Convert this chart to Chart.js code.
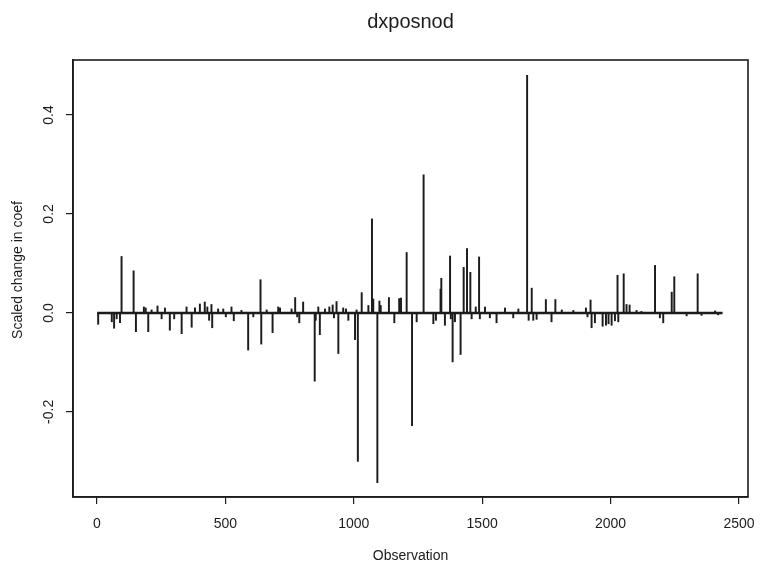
<!DOCTYPE html>
<html>
<head>
<meta charset="utf-8">
<script src="https://cdn.jsdelivr.net/npm/chart.js@4"></script>
<style>
  html, body { margin: 0; padding: 0; background: #fff; }
  canvas { display: block; }
</style>
</head>
<body>
<canvas id="c" width="761" height="573"></canvas>
<script>
// values (observation number, scaled change)
const obsIndex = [
  5, 58, 67, 77, 90, 96, 143, 152, 183, 190, 200, 213, 236, 252, 265, 284, 301, 330, 349, 369,
  382, 401, 420, 430, 437, 446, 449, 472, 492, 502, 524, 533, 563, 589, 609, 637, 640, 661, 684, 706,
  713, 758, 772, 780, 788, 803, 848, 852, 862, 868, 888, 905, 918, 923, 933, 940, 959, 970, 979, 1005,
  1011, 1016, 1031, 1057, 1071, 1076, 1092, 1100, 1105, 1137, 1158, 1177, 1184, 1206, 1227, 1245, 1272, 1310, 1320, 1338,
  1341, 1355, 1375, 1378, 1385, 1394, 1416, 1428, 1441, 1454, 1459, 1475, 1488, 1491, 1511, 1530, 1556, 1589, 1621, 1641,
  1675, 1681, 1693, 1699, 1712, 1748, 1770, 1785, 1810, 1855, 1904, 1910, 1922, 1926, 1939, 1969, 1982, 1992, 2004, 2017,
  2027, 2030, 2051, 2062, 2074, 2101, 2120, 2173, 2192, 2205, 2238, 2248, 2296, 2339, 2354, 2407, 2419
];
const coefChange = [
  -0.023, -0.018, -0.031, -0.012, -0.020, 0.114, 0.085, -0.038, 0.012, 0.010, -0.038, 0.006, 0.014, -0.012, 0.010, -0.035, -0.012, -0.042, 0.012, -0.029,
  0.010, 0.018, 0.022, 0.012, -0.015, 0.017, -0.030, 0.008, 0.008, -0.008, 0.012, -0.016, 0.005, -0.075, -0.008, 0.067, -0.063, 0.006, -0.040, 0.012,
  0.010, 0.008, 0.031, -0.008, -0.020, 0.022, -0.138, -0.015, 0.012, -0.044, 0.008, 0.012, 0.016, -0.010, 0.023, -0.082, 0.010, 0.008, -0.015, -0.054,
  0.006, -0.300, 0.041, 0.015, 0.190, 0.028, -0.343, 0.024, 0.015, 0.031, -0.020, 0.029, 0.030, 0.122, -0.228, -0.018, 0.279, -0.022, -0.015, 0.048,
  0.070, -0.025, 0.115, -0.012, -0.099, -0.018, -0.084, 0.092, 0.130, 0.082, -0.012, 0.012, 0.113, -0.012, 0.012, -0.010, -0.020, 0.010, -0.010, 0.008,
  0.480, -0.015, 0.050, -0.015, -0.013, 0.027, -0.018, 0.027, 0.006, 0.005, 0.010, -0.008, 0.026, -0.030, -0.020, -0.027, -0.025, -0.022, -0.025, -0.016,
  0.076, -0.018, 0.079, 0.017, 0.016, 0.005, 0.003, 0.096, -0.010, -0.020, 0.042, 0.073, -0.006, 0.079, -0.005, 0.004, -0.004
];
const obsRange = [1, 2436];
const xTicks = [0, 500, 1000, 1500, 2000, 2500];
const yTicks = [-0.2, 0.0, 0.2, 0.4];

const FONT = '"Liberation Sans", Arial, Helvetica, sans-serif';
const INK = '#1c1c1c';

const rText = {
  id: 'rText',
  afterDraw(chart) {
    const ctx = chart.ctx;
    const a = chart.chartArea;
    const y = chart.scales.y;
    ctx.save();
    // plot box
    ctx.strokeStyle = INK;
    ctx.lineWidth = 1.6;
    ctx.strokeRect(a.left, a.top, a.right - a.left, a.bottom - a.top);
    // main title
    ctx.fillStyle = INK;
    ctx.textAlign = 'center';
    ctx.textBaseline = 'middle';
    ctx.font = '20px ' + FONT;
    ctx.fillText('dxposnod', (a.left + a.right) / 2, 22);
    // y tick labels, parallel to the axis
    ctx.font = '14px ' + FONT;
    yTicks.forEach(v => {
      ctx.save();
      ctx.translate(49, y.getPixelForValue(v));
      ctx.rotate(-Math.PI / 2);
      ctx.fillText(v.toFixed(1), 0, 0);
      ctx.restore();
    });
    // y axis title
    ctx.save();
    ctx.translate(18, 270);
    ctx.rotate(-Math.PI / 2);
    ctx.fillText('Scaled change in coef', 0, 0);
    ctx.restore();
    ctx.restore();
  }
};

new Chart(document.getElementById('c'), {
  type: 'bar',
  data: {
    datasets: [
      {
        type: 'line',
        data: obsRange.map(o => ({ x: o, y: 0 })),
        borderColor: INK,
        borderWidth: 2.5,
        pointRadius: 0,
        order: 2
      },
      {
        data: obsIndex.map((o, i) => ({ x: o, y: coefChange[i] })),
        backgroundColor: INK,
        barThickness: 1.3,
        order: 1
      }
    ]
  },
  options: {
    responsive: false,
    animation: false,
    devicePixelRatio: 1,
    layout: { padding: { top: 60, right: 13, bottom: 0, left: 0 } },
    plugins: { legend: { display: false }, tooltip: { enabled: false }, title: { display: false } },
    scales: {
      x: {
        type: 'linear',
        offset: false,
        min: -93,
        max: 2535,
        afterBuildTicks: s => { s.ticks = xTicks.map(v => ({ value: v })); },
        afterFit: s => { s.height = 76; s.paddingLeft = 0; s.paddingRight = 0; },
        grid: { offset: false, drawOnChartArea: false, drawTicks: true, tickLength: 7, color: INK, tickColor: INK, lineWidth: 1.2 },
        border: { display: true, color: INK, width: 1.6 },
        ticks: { font: { family: FONT, size: 14 }, color: INK, padding: 12, maxRotation: 0, autoSkip: false, callback: v => String(v) },
        title: { display: true, text: 'Observation', font: { family: FONT, size: 14 }, color: INK, padding: { top: 2, bottom: 8 } }
      },
      y: {
        min: -0.372,
        max: 0.511,
        afterBuildTicks: s => { s.ticks = yTicks.map(v => ({ value: v })); },
        afterFit: s => { s.width = 73; s.paddingTop = 0; s.paddingBottom = 0; },
        grid: { drawOnChartArea: false, drawTicks: true, tickLength: 7, color: INK, tickColor: INK, lineWidth: 1.2 },
        border: { display: true, color: INK, width: 1.6 },
        ticks: { display: false }
      }
    }
  },
  plugins: [rText]
});
</script>
</body>
</html>
